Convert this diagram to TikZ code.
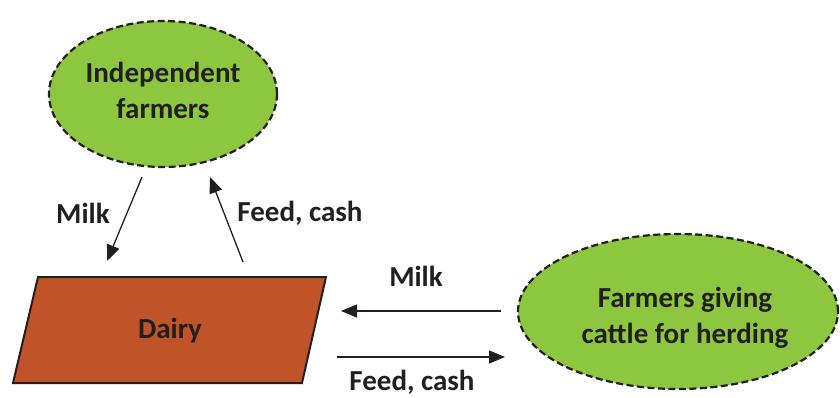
\documentclass[tikz,border=0pt]{standalone}
\usepackage{fontspec}
\setmainfont{Carlito}
\usetikzlibrary{shapes.geometric,arrows.meta}
\definecolor{leafgreen}{RGB}{141,198,63}
\definecolor{dairyorange}{RGB}{192,84,40}
\definecolor{inkdark}{RGB}{35,31,32}
\tikzset{
  txt/.style={font=\fontsize{29}{36}\selectfont\bfseries, text=inkdark, align=center, inner sep=0pt},
  party/.style={ellipse, draw=inkdark, fill=leafgreen, line width=2.2pt, dash pattern=on 7pt off 3.5pt, inner sep=0pt},
  flow/.style={draw=inkdark, line width=1.3pt, -{Triangle[length=16pt,width=13pt]}},
}
\begin{document}
\begin{tikzpicture}[x=1pt,y=-1pt]
\useasboundingbox (0,0) rectangle (840,398);
% nodes
\node[party, minimum width=228pt, minimum height=146pt] (indep) at (163,94) {};
\node[txt] (indeptxt) at (163,90) {Independent\\farmers};
\node[party, minimum width=320pt, minimum height=155pt] (herd) at (678,311.5) {};
\node[txt] (herdtxt) at (685,318) {Farmers giving\\cattle for herding};
\coordinate (d1) at (38,277);
\coordinate (d2) at (326,277);
\coordinate (d3) at (302,383);
\coordinate (d4) at (13,383);
\draw[fill=dairyorange, draw=inkdark, line width=2pt, line join=miter] (d1) -- (d2) -- (d3) -- (d4) -- cycle;
\node[txt] (dairy) at (170,331) {Dairy};
% connectors
\coordinate (m1s) at (142,177);
\coordinate (m1e) at (107,261);
\coordinate (f1s) at (243,262);
\coordinate (f1e) at (210,177);
\coordinate (m2s) at (501,311);
\coordinate (m2e) at (341,311);
\coordinate (f2s) at (337,357);
\coordinate (f2e) at (505,357);
\draw[flow] (m1s) -- (m1e);
\draw[flow] (f1s) -- (f1e);
\draw[flow] (m2s) -- (m2e);
\draw[flow] (f2s) -- (f2e);
% labels
\node[txt] (lm1) at (83,213) {Milk};
\node[txt] (lf1) at (300,213) {Feed, cash};
\node[txt] (lm2) at (416,276) {Milk};
\node[txt] (lf2) at (412,382) {Feed, cash};
\end{tikzpicture}
\end{document}
